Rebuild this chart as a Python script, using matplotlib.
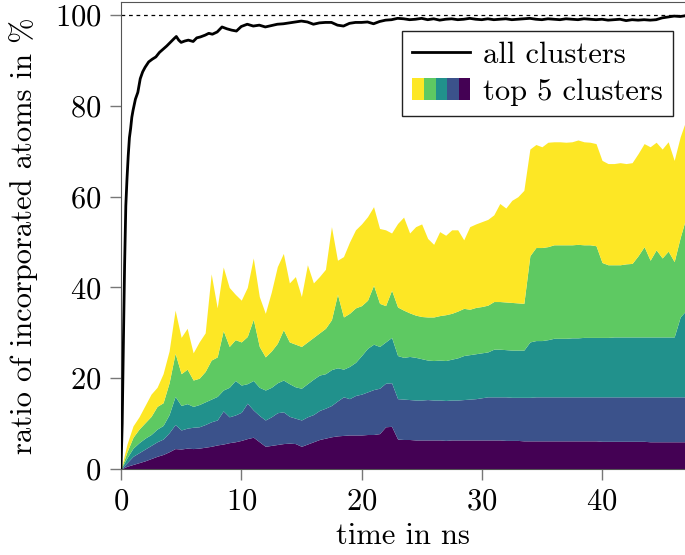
import numpy as np
import matplotlib
matplotlib.use("Agg")
import matplotlib.pyplot as plt
from matplotlib.patches import Patch
from matplotlib.legend_handler import HandlerTuple

plt.rcParams['font.family'] = ['cmr10', 'DejaVu Serif']
plt.rcParams['mathtext.fontset'] = 'cm'
plt.rcParams['axes.formatter.use_mathtext'] = True
plt.rcParams['font.size'] = 22

# time axis of the cluster data (ns)
t = np.arange(0, 47.01, 0.5)

# upper edge of each stacked band (cumulative %), bottom band first
top_c1 = [0, 0.6, 1.0, 1.4, 1.8, 2.3, 2.8, 3.2, 3.8, 4.5, 4.4, 4.6, 4.5, 4.6, 4.8, 5.0,
          5.3, 5.5, 5.8, 6.0, 6.3, 6.7, 7.0, 6.0, 5.0, 5.2, 5.4, 5.6, 5.7, 5.6, 5.0, 5.5,
          6.0, 6.5, 6.8, 7.1, 7.3, 7.4, 7.5, 7.5, 7.5, 7.6, 7.6, 7.8, 9.3, 9.4, 6.6, 6.5,
          6.5, 6.4, 6.4, 6.4, 6.4, 6.4, 6.3, 6.4, 6.4, 6.4, 6.4, 6.4, 6.4, 6.4, 6.4, 6.4,
          6.3, 6.3, 6.3, 6.2, 6.2, 6.2, 6.2, 6.2, 6.2, 6.2, 6.2, 6.2, 6.2, 6.2, 6.2, 6.2,
          6.1, 6.1, 6.1, 6.1, 6.1, 6.1, 6.1, 6.1, 6.0, 6.0, 6.0, 6.0, 6.0, 6.0, 6.0]
top_c2 = [0, 1.4, 2.8, 3.6, 4.4, 5.2, 6.0, 6.6, 8.0, 9.8, 8.6, 9.0, 9.2, 9.3, 9.8, 10.4,
          10.8, 12.8, 11.5, 11.9, 12.5, 14.5, 13.0, 11.8, 10.8, 11.5, 12.4, 12.6, 11.6, 11.2, 10.8, 11.5,
          12.0, 12.9, 13.4, 14.0, 15.0, 15.9, 15.5, 16.2, 16.5, 17.0, 17.5, 17.8, 18.9, 19.0, 15.5, 15.4,
          15.3, 15.2, 15.2, 15.3, 15.2, 15.2, 15.1, 15.2, 15.2, 15.3, 15.4, 15.5, 15.7, 15.9, 15.9, 15.9,
          15.9, 15.8, 15.8, 15.8, 15.8, 15.9, 15.9, 15.9, 15.9, 15.9, 15.9, 15.9, 15.9, 15.9, 15.9, 15.9,
          15.9, 15.9, 15.9, 15.9, 15.9, 15.9, 15.9, 15.9, 15.9, 15.9, 15.9, 15.9, 15.9, 15.9, 15.9]
top_c3 = [0, 2.5, 4.6, 5.8, 6.8, 7.6, 8.8, 9.6, 12.0, 16.0, 14.0, 14.4, 13.8, 14.2, 14.8, 15.4,
          16.0, 17.4, 18.0, 19.5, 18.5, 18.8, 19.5, 18.0, 17.4, 18.0, 19.0, 19.6, 18.8, 18.1, 17.8, 18.8,
          19.8, 20.7, 21.0, 21.9, 22.3, 22.0, 22.6, 23.5, 25.0, 26.6, 27.5, 27.0, 28.0, 29.0, 25.0, 24.6,
          24.8, 24.6, 24.3, 24.0, 23.9, 24.0, 23.9, 24.2, 24.5, 25.0, 25.2, 25.4, 25.6, 25.8, 26.4, 26.4,
          26.3, 26.2, 26.2, 26.2, 28.0, 28.3, 28.3, 28.5, 28.8, 28.8, 28.8, 28.9, 28.9, 29.0, 29.0, 29.0,
          29.0, 29.0, 29.1, 29.1, 29.1, 29.1, 29.1, 29.1, 29.1, 29.1, 29.1, 29.1, 29.1, 33.5, 35.0]
top_c4 = [0, 3.8, 7.0, 8.8, 10.2, 11.6, 13.8, 14.6, 19.0, 25.5, 21.0, 22.0, 19.6, 20.0, 21.5, 24.0,
          24.7, 30.5, 27.0, 28.5, 28.0, 29.2, 33.0, 27.0, 24.7, 26.0, 27.7, 30.7, 28.0, 27.5, 27.0, 28.0,
          29.0, 30.0, 31.0, 32.9, 38.5, 33.5, 34.3, 35.5, 36.0, 37.2, 40.5, 36.5, 36.0, 39.4, 35.7, 35.0,
          34.4, 33.9, 33.6, 33.5, 33.5, 33.8, 34.0, 34.3, 34.8, 35.4, 35.2, 35.6, 35.8, 36.1, 36.9, 36.9,
          36.8, 36.7, 36.6, 36.5, 47.0, 48.8, 48.8, 49.0, 49.4, 49.4, 49.4, 49.4, 49.5, 49.4, 49.4, 49.2,
          45.5, 45.0, 45.0, 45.0, 45.2, 45.3, 47.0, 49.0, 46.0, 48.3, 46.5, 48.0, 45.7, 51.0, 55.6]
top_c5 = [0, 5.5, 9.5, 11.5, 14.0, 16.5, 18.0, 21.0, 26.0, 35.0, 29.0, 31.0, 25.6, 28.0, 30.0, 43.0,
          35.5, 44.5, 40.0, 38.5, 37.2, 40.0, 46.5, 38.0, 34.3, 39.0, 44.6, 47.5, 41.0, 42.4, 38.0, 45.0,
          41.0, 42.4, 44.0, 53.4, 46.0, 46.8, 50.0, 52.7, 54.0, 55.6, 57.8, 53.0, 52.7, 52.0, 54.1, 55.5,
          52.0, 53.4, 54.0, 50.8, 49.5, 52.3, 51.5, 52.7, 52.7, 50.5, 53.4, 54.0, 54.5, 55.0, 56.0, 58.5,
          57.5, 59.2, 60.0, 61.4, 70.5, 71.5, 71.0, 72.0, 72.1, 72.1, 72.0, 72.1, 72.5, 72.1, 72.0, 71.7,
          68.0, 67.3, 67.3, 67.5, 67.3, 67.5, 69.5, 71.7, 71.0, 72.0, 70.5, 72.1, 68.0, 73.2, 77.0]

# all clusters together
t_all = [0, 0.1, 0.2, 0.3, 0.4, 0.5, 0.6, 0.7, 0.8, 0.9, 1.0, 1.2, 1.4, 1.6, 1.8, 2.0,
         2.3, 2.6, 2.9, 3.2, 3.5, 3.8, 4.1, 4.4, 4.6, 4.8, 5.0, 5.3, 5.6, 6.0, 6.3, 6.6,
         7.0, 7.3, 7.6, 8.0, 8.4, 8.8, 9.2, 9.6, 10.0, 10.5, 11.0, 11.5, 12.0, 12.5, 13.0, 13.5,
         14.0, 14.5, 15.0, 15.5, 16.0, 16.5, 17.0, 17.5, 18.0, 18.5, 19.0, 19.5, 20.0, 20.5, 21.0, 21.5,
         22.0, 22.5, 23.0, 23.5, 24.0, 24.5, 25.0, 25.5, 26.0, 26.5, 27.0, 27.5, 28.0, 28.5, 29.0, 29.5,
         30.0, 30.5, 31.0, 31.5, 32.0, 32.5, 33.0, 33.5, 34.0, 34.5, 35.0, 35.5, 36.0, 36.5, 37.0, 37.5,
         38.0, 38.5, 39.0, 39.5, 40.0, 40.5, 41.0, 41.5, 42.0, 42.5, 43.0, 43.5, 44.0, 44.5, 45.0, 45.5,
         46.0, 46.5, 47.0]
all_clusters = [0, 10, 28, 45, 58, 64, 69, 73, 75, 77.5, 79, 81.5, 83, 86, 87.5, 88.5,
                89.7, 90.3, 90.8, 91.8, 92.5, 93.2, 94.0, 94.8, 95.3, 94.5, 94.0, 94.3, 94.5, 94.2, 95.0, 95.2,
                95.6, 96.0, 95.8, 96.3, 97.4, 97.0, 96.7, 96.5, 97.5, 98.0, 97.6, 97.8, 97.4, 97.7, 98.0, 98.1,
                98.3, 98.5, 98.7, 98.5, 98.0, 98.3, 98.4, 98.4, 97.8, 97.6, 98.2, 98.4, 98.4, 98.5, 98.1, 98.6,
                98.9, 99.0, 99.3, 99.2, 99.0, 99.1, 99.3, 99.0, 99.2, 98.9, 99.1, 99.2, 99.0, 99.1, 99.3, 99.1,
                99.0, 99.2, 99.0, 99.1, 99.2, 99.0, 99.1, 99.2, 99.3, 99.1, 99.0, 99.2, 99.1, 99.0, 99.2, 99.1,
                99.0, 99.2, 99.1, 99.0, 99.1, 98.9, 99.0, 99.1, 98.8, 99.0, 98.9, 99.0, 98.9, 99.0, 99.4, 99.6,
                99.8, 99.7, 99.9]

colors = plt.cm.viridis(np.linspace(0, 1, 5))

fig = plt.figure(figsize=(6.85, 5.55), dpi=100)
ax = fig.add_axes([121 / 685, 86 / 555, 564 / 685, 467 / 555])

tops = [top_c1, top_c2, top_c3, top_c4, top_c5]
lower = np.zeros(len(t))
for i, top in enumerate(tops):
    ax.fill_between(t, lower, top, color=colors[i], lw=0, zorder=1)
    lower = np.array(top)

ax.plot(t_all, all_clusters, color='black', lw=2, zorder=3)
ax.axhline(100, color='black', lw=0.9, ls=(0, (3, 3)), zorder=2)

ax.set_xlim(0, 46.9)
ax.set_ylim(0, 102.9)
ax.set_xticks([0, 10, 20, 30, 40])
ax.set_yticks([0, 20, 40, 60, 80, 100])
ax.set_xlabel('time in ns', labelpad=5)
ax.set_ylabel('ratio of incorporated atoms in %', labelpad=12)
ax.tick_params(direction='out', length=8, width=1, color='#777777', pad=6)
for s in ax.spines.values():
    s.set_color('#555555')
ax.spines['right'].set_visible(False)

line_h = plt.Line2D([], [], color='black', lw=2)
patch_h = tuple(Patch(facecolor=c, edgecolor='none') for c in colors[::-1])
leg = ax.legend([line_h, patch_h], ['all clusters', 'top 5 clusters'],
                handler_map={tuple: HandlerTuple(ndivide=None, pad=0)},
                loc='upper right', bbox_to_anchor=(0.979, 0.938), borderaxespad=0,
                fancybox=False, framealpha=1, edgecolor='#222222',
                handlelength=1.9, handletextpad=0.4, labelspacing=0.3, borderpad=0.35)
leg.get_frame().set_linewidth(1)

fig.savefig('out.png', dpi=100)
